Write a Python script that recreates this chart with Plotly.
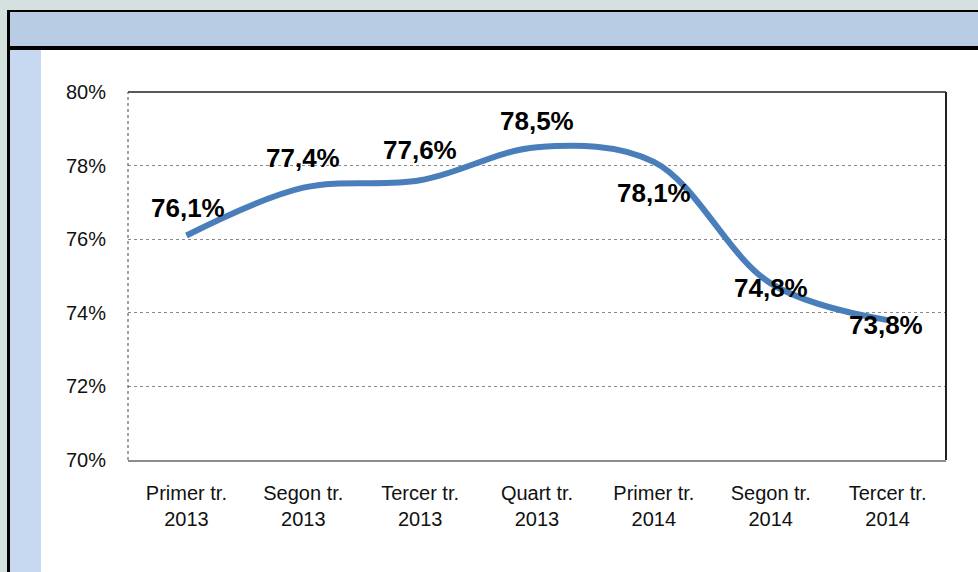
import plotly.graph_objects as go

categories = ["Primer tr.<br>2013", "Segon tr.<br>2013", "Tercer tr.<br>2013", "Quart tr.<br>2013",
              "Primer tr.<br>2014", "Segon tr.<br>2014", "Tercer tr.<br>2014"]
values = [76.1, 77.4, 77.6, 78.5, 78.1, 74.8, 73.8]
value_labels = ["76,1%", "77,4%", "77,6%", "78,5%", "78,1%", "74,8%", "73,8%"]
y_ticks = [70, 72, 74, 76, 78, 80]
y_tick_labels = ["70%", "72%", "74%", "76%", "78%", "80%"]

W, H = 978, 572
L, R, T, B = 128, 32, 92, 112
PW, PH = W - L - R, H - T - B


def px(x):
    return (x - L) / PW


def py(y):
    return (H - B - y) / PH


fig = go.Figure()
fig.add_trace(go.Scatter(
    x=categories, y=values, mode="lines",
    line=dict(color="#4a7ebb", width=6, shape="spline", smoothing=1.0),
    hoverinfo="skip", showlegend=False,
))

label_shift = [(2, 28), (0, 30), (0, 30), (0, 26), (0, -31), (0, -5), (-2, -5)]
annotations = []
for c, v, t, (dx, dy) in zip(categories, values, value_labels, label_shift):
    annotations.append(dict(
        x=c, y=v, xref="x", yref="y", text=t, showarrow=False,
        xshift=dx, yshift=dy,
        font=dict(family="Liberation Sans, Arial, sans-serif", size=26, color="#000000",
                  weight="bold"),
    ))

shapes = [
    # black frame
    dict(type="rect", xref="paper", yref="paper", x0=px(7), x1=px(990), y0=py(10), y1=py(590),
         fillcolor="#000000", line=dict(width=0), layer="below"),
    # header band
    dict(type="rect", xref="paper", yref="paper", x0=px(10), x1=px(990), y0=py(12), y1=py(46),
         fillcolor="#b8cce4", line=dict(width=0), layer="below"),
    # left strip
    dict(type="rect", xref="paper", yref="paper", x0=px(10), x1=px(41), y0=py(50), y1=py(590),
         fillcolor="#c6d9f1", line=dict(width=0), layer="below"),
    # white panel
    dict(type="rect", xref="paper", yref="paper", x0=px(41), x1=px(990), y0=py(50), y1=py(590),
         fillcolor="#ffffff", line=dict(width=0), layer="below"),
    # plot area border: top, right, left
    dict(type="line", xref="paper", yref="paper", x0=0, x1=1, y0=1, y1=1,
         line=dict(color="#222222", width=1.5), layer="above"),
    dict(type="line", xref="paper", yref="paper", x0=1, x1=1, y0=0, y1=1,
         line=dict(color="#222222", width=2), layer="above"),
    dict(type="line", xref="paper", yref="paper", x0=0, x1=0, y0=0, y1=1,
         line=dict(color="#444444", width=1, dash="dot"), layer="above"),
]

fig.update_layout(
    width=W, height=H,
    margin=dict(l=L, r=R, t=T, b=B),
    paper_bgcolor="#d4e1de",
    plot_bgcolor="#ffffff",
    shapes=shapes,
    annotations=annotations,
    font=dict(family="Liberation Sans, Arial, sans-serif", size=20, color="#111111"),
    xaxis=dict(
        range=[-0.5, 6.5], showgrid=False, zeroline=False,
        showline=True, linecolor="#8c8c8c", linewidth=2,
        ticks="outside", ticklen=14, tickcolor="rgba(0,0,0,0)",
        tickfont=dict(size=20),
    ),
    yaxis=dict(
        range=[70, 80], tickvals=y_ticks, ticktext=y_tick_labels,
        showgrid=True, gridcolor="#8a8a8a", gridwidth=1, griddash="dot",
        zeroline=False, showline=False,
        ticks="outside", ticklen=17, tickcolor="rgba(0,0,0,0)",
        tickfont=dict(size=20),
    ),
)

fig.write_html(
    "out.html",
    config={"displayModeBar": False},
    post_script="document.body.style.margin='0';document.body.style.overflow='hidden';",
)
